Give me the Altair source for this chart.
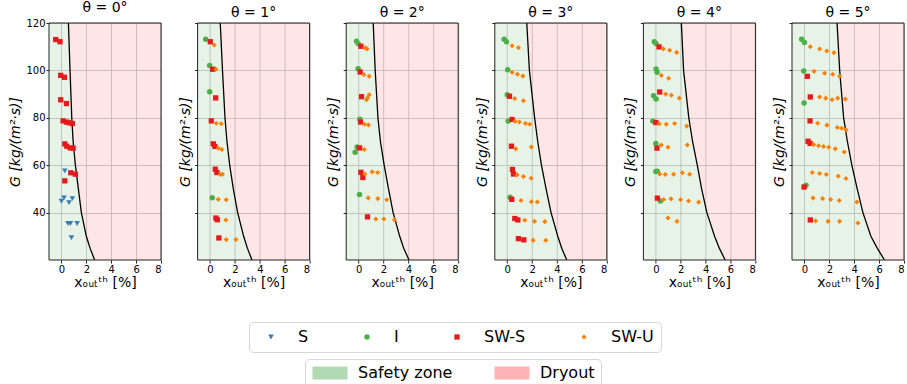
import altair as alt
import pandas as pd

# ---------------- data ----------------
X_MIN, X_MAX = -1, 8
G_MIN, G_MAX = 20, 120
X_TICKS = [0, 2, 4, 6, 8]
G_TICKS = [40, 60, 80, 100, 120]
THETAS = [0, 1, 2, 3, 4, 5]

REGIMES = ["S", "I", "SW-S", "SW-U"]
REGIME_COLORS = ["#377eb8", "#4daf4a", "#e41a1c", "#ff7f00"]
REGIME_SHAPES = ["triangle-down", "circle", "square", "diamond"]
REGIME_SIZES = [32, 26, 26, 46]
ZONES = ["Safety zone", "Dryout"]
ZONE_COLORS = ["#b2dab2", "#ffb3b3"]

# dryout boundary curves
CURVE_G = [20, 25, 30, 40, 50, 60, 70, 80, 100, 120]
CURVE_X0 = [2.67, 2.30, 2.00, 1.60, 1.36, 1.12, 0.94, 0.83, 0.69, 0.56]
CURVE_X1 = [3.37, 3.00, 2.70, 2.22, 1.87, 1.58, 1.36, 1.20, 1.00, 0.82]
CURVE_X2 = [4.05, 3.62, 3.30, 2.77, 2.40, 2.05, 1.75, 1.55, 1.33, 1.17]
CURVE_X3 = [4.78, 4.38, 4.06, 3.52, 3.12, 2.75, 2.45, 2.20, 1.78, 1.57]
CURVE_X4 = [5.57, 5.10, 4.72, 4.10, 3.68, 3.33, 2.95, 2.65, 2.23, 2.05]
CURVE_X5 = [6.43, 5.85, 5.34, 4.70, 4.24, 3.81, 3.45, 3.15, 2.83, 2.62]
CURVES = [CURVE_X0, CURVE_X1, CURVE_X2, CURVE_X3, CURVE_X4, CURVE_X5]

# measured points: regime -> (x_out [%], G)
P0 = {
    "S": ([0.27, 0.00, 0.21, 0.61, 0.88, 0.53, 0.72, 1.26, 0.80],
          [57.6, 44.8, 46.2, 44.2, 45.9, 35.4, 35.4, 35.4, 29.4]),
    "SW-S": ([-0.46, -0.11, -0.06, 0.24, -0.06, 0.40, 0.13, 0.40, 0.61, 0.88,
              0.27, 0.43, 0.70, 0.94, 0.75, 1.12, 0.27],
             [113.0, 112.1, 97.9, 97.1, 87.6, 86.0, 78.7, 78.2, 77.9, 77.6,
              69.0, 68.0, 67.3, 67.2, 56.8, 56.2, 53.4]),
}
P1 = {
    "I": ([-0.35, -0.03, -0.03, 0.18], [113.1, 102.1, 91.0, 46.3]),
    "SW-S": ([0.02, 0.21, 0.45, 0.10, 0.26, 0.39, 0.42, 0.55, 0.47, 0.58, 0.71],
             [112.1, 100.5, 88.4, 78.7, 69.0, 67.9, 58.3, 56.9, 37.7, 37.0, 29.3]),
    "SW-U": ([0.34, 0.47, 0.50, 0.90, 0.66, 0.95, 0.82, 1.00, 0.66, 1.30, 1.27, 1.30, 2.08],
             [110.7, 100.5, 77.7, 77.5, 67.2, 66.6, 56.1, 56.2, 45.6, 45.4, 36.9, 28.6, 28.6]),
}
P2 = {
    "I": ([-0.17, -0.04, -0.04, 0.10, -0.12, -0.28, 0.07],
          [112.3, 111.3, 100.7, 79.4, 67.7, 65.5, 47.6]),
    "SW-S": ([0.18, 0.12, 0.23, 0.15, 0.07, 0.18, 0.34, 0.71],
             [110.2, 99.3, 88.9, 78.2, 67.3, 57.0, 54.8, 38.2]),
    "SW-U": ([0.52, 0.68, 0.42, 0.85, 0.71, 0.85, 0.63, 0.47, 0.79, 0.45, 0.50, 1.09,
              1.52, 0.77, 1.54, 2.26, 1.38, 2.02, 2.88],
             [109.5, 109.1, 98.2, 97.5, 88.4, 89.7, 87.6, 77.3, 77.0, 66.6, 56.3, 57.2,
              56.9, 46.2, 45.9, 45.4, 37.3, 37.3, 37.0]),
}
P3 = {
    "I": ([-0.25, -0.06, 0.04, 0.00, 0.07, 0.23],
          [113.1, 112.1, 100.3, 89.7, 78.6, 46.5]),
    "SW-S": ([0.18, 0.39, 0.34, 0.42, 0.50, 0.36, 0.61, 0.85, 0.90, 1.33],
             [89.1, 79.3, 68.0, 58.2, 56.3, 45.6, 37.5, 36.9, 29.0, 28.5]),
    "SW-U": ([0.39, 0.90, 0.39, 0.82, 1.25, 0.60, 1.30, 0.63, 0.98, 1.46, 1.81, 0.69,
              1.94, 0.79, 1.30, 1.92, 1.11, 1.94, 2.42, 1.41, 2.19, 3.02, 2.08, 3.10],
             [110.4, 109.6, 99.2, 98.4, 97.6, 88.1, 87.2, 78.5, 78.2, 77.6, 77.3, 66.9,
              67.7, 55.9, 55.2, 54.5, 45.1, 44.6, 44.5, 36.8, 36.3, 36.2, 28.3, 28.3]),
}
P4 = {
    "I": ([-0.12, 0.02, 0.02, 0.10, -0.18, 0.02, -0.25, 0.00, 0.00, 0.12, 0.36],
          [112.1, 111.3, 100.6, 99.2, 89.3, 87.9, 78.6, 69.2, 57.3, 57.5, 44.9]),
    "SW-S": ([0.26, 0.31, 0.00, 0.09, 0.12], [109.9, 90.9, 78.0, 67.2, 46.1]),
    "SW-U": ([0.60, 1.11, 1.67, 0.44, 1.03, 0.79, 1.25, 1.89, 0.28, 0.84, 1.51, 2.48,
              0.44, 0.98, 2.53, 0.31, 0.76, 1.43, 2.13, 2.72, 0.63, 1.22, 1.99, 2.63,
              3.44, 0.98, 1.70],
             [109.1, 108.5, 107.6, 97.9, 96.7, 90.0, 89.5, 88.3, 77.5, 77.3, 77.6, 76.5,
              68.5, 67.6, 68.5, 56.3, 56.1, 56.2, 56.8, 56.2, 45.5, 45.8, 45.4, 44.9,
              44.4, 37.7, 36.3]),
}
P5 = {
    "I": ([-0.22, 0.00, -0.06, -0.03, 0.13], [113.1, 111.8, 99.7, 86.2, 51.5]),
    "SW-S": ([0.23, 0.47, 0.45, 0.29, 0.45, -0.03, 0.47],
             [97.5, 88.8, 78.7, 70.1, 69.2, 50.8, 36.9]),
    "SW-U": ([0.47, 1.22, 1.79, 2.37, 0.77, 1.62, 2.27, 2.83, 1.22, 1.71, 2.22, 2.67,
              3.29, 1.06, 1.81, 2.64, 2.99, 3.34, 0.74, 1.14, 1.54, 1.95, 2.48, 3.20,
              0.63, 1.22, 1.76, 2.72, 3.34, 0.69, 1.46, 2.10, 2.80, 4.22, 0.90, 1.89,
              2.83, 4.30],
             [110.0, 109.0, 108.2, 107.5, 99.6, 98.8, 98.4, 97.5, 88.8, 88.3, 87.6, 88.3,
              87.9, 77.7, 76.9, 75.9, 75.6, 74.9, 68.7, 68.2, 67.9, 67.6, 66.9, 65.6,
              56.9, 56.5, 56.1, 55.4, 54.4, 46.2, 45.9, 45.5, 45.1, 44.5, 36.5, 36.3,
              36.3, 35.6]),
}
POINTS = [P0, P1, P2, P3, P4, P5]

TITLE_FMT = "θ = {}°"
X_TITLE = "xₒᵤₜᵗʰ [%]"
Y_TITLE = "G [kg/(m²·s)]"

# ---------------- chart ----------------
FONT = "DejaVu Sans"
PANEL_W, PANEL_H = 112, 237

x_scale = alt.Scale(domain=[X_MIN, X_MAX], nice=False, zero=False)
y_scale = alt.Scale(domain=[G_MIN, G_MAX], nice=False, zero=False)

regime_legend = alt.Legend(
    title=None, orient="none", legendX=200, legendY=299, direction="horizontal",
    columns=4, symbolSize=18, symbolStrokeWidth=0, symbolOffset=7,
    labelFont=FONT, labelFontSize=16, labelColor="black", labelOffset=19,
    columnPadding=43, padding=7, strokeColor="#d6d6d6", cornerRadius=4,
    fillColor="white",
)
zone_legend = alt.Legend(
    title=None, orient="none", legendX=256, legendY=336, direction="horizontal",
    columns=2, symbolType="M-2.7,-1H2.7V1H-2.7Z", symbolSize=169,
    symbolStrokeWidth=0, symbolOpacity=1, symbolOffset=11,
    labelFont=FONT, labelFontSize=16, labelColor="black", labelOffset=20,
    columnPadding=40, padding=6, strokeColor="#d6d6d6", cornerRadius=4,
    fillColor="white",
)


def panel(k):
    cx = CURVES[k]
    n = len(CURVE_G)
    zone_df = pd.concat([
        pd.DataFrame({"G": CURVE_G, "x1": [X_MIN] * n, "x2": cx, "zone": ZONES[0]}),
        pd.DataFrame({"G": CURVE_G, "x1": cx, "x2": [X_MAX] * n, "zone": ZONES[1]}),
    ], ignore_index=True)
    curve_df = pd.DataFrame({"G": CURVE_G, "xc": cx})
    rows = []
    for reg, (xs, gs) in POINTS[k].items():
        for xv, gv in zip(xs, gs):
            rows.append({"x": xv, "G": gv, "regime": reg})
    pts_df = pd.DataFrame(rows)
    frame_df = pd.DataFrame({"f": [0]})

    x_axis = alt.Axis(values=X_TICKS, title=X_TITLE, grid=True, labelPadding=1,
                      titlePadding=1, labelOverlap=False)
    y_axis = alt.Axis(values=G_TICKS, title=Y_TITLE, grid=True, labels=(k == 0),
                      labelPadding=1, titlePadding=(3 if k == 0 else 2),
                      titleFontStyle="italic", labelOverlap=False)

    zones = alt.Chart(zone_df).mark_area(orient="horizontal", opacity=0.33).encode(
        y=alt.Y("G:Q", scale=y_scale, axis=y_axis),
        x=alt.X("x1:Q", scale=x_scale, axis=x_axis),
        x2="x2:Q",
        fill=alt.Fill("zone:N", scale=alt.Scale(domain=ZONES, range=ZONE_COLORS),
                      legend=zone_legend),
    )
    curve = alt.Chart(curve_df).mark_line(color="black", strokeWidth=1.3, clip=True).encode(
        x=alt.X("xc:Q", scale=x_scale, axis=x_axis),
        y=alt.Y("G:Q", scale=y_scale, axis=y_axis),
        order="G:Q",
    )
    pts = alt.Chart(pts_df).mark_point(filled=True, opacity=1).encode(
        x=alt.X("x:Q", scale=x_scale, axis=x_axis),
        y=alt.Y("G:Q", scale=y_scale, axis=y_axis),
        color=alt.Color("regime:N", scale=alt.Scale(domain=REGIMES, range=REGIME_COLORS),
                        legend=regime_legend),
        shape=alt.Shape("regime:N", scale=alt.Scale(domain=REGIMES, range=REGIME_SHAPES),
                        legend=regime_legend),
        size=alt.Size("regime:N", scale=alt.Scale(domain=REGIMES, range=REGIME_SIZES),
                      legend=None),
    )
    frame = alt.Chart(frame_df).mark_rect(filled=False, stroke="#222222", strokeWidth=1).encode(
        x=alt.datum(X_MIN, axis=x_axis), x2=alt.datum(X_MAX),
        y=alt.datum(G_MIN, axis=y_axis), y2=alt.datum(G_MAX),
    )
    return alt.layer(zones, curve, pts, frame).properties(
        width=PANEL_W, height=PANEL_H, title=TITLE_FMT.format(THETAS[k])
    )


chart = alt.hconcat(*[panel(k) for k in range(6)], spacing=36.6, bounds="flush").properties(
    padding={"left": 8, "top": 0, "right": 0, "bottom": 0},
).configure_view(
    stroke="transparent"
).configure_axis(
    labelFont=FONT, labelFontSize=10, labelColor="black",
    titleFont=FONT, titleFontSize=14, titleFontWeight="normal", titleColor="black",
    tickColor="#222222", tickSize=3, domain=False, labelOverlap=False,
    gridColor="#b0b0b0", gridWidth=0.8, zindex=1,
).configure_title(
    font=FONT, fontSize=14, fontWeight="normal", color="black", offset=3, anchor="middle"
)

chart.save("out.html", embed_options={"renderer": "svg", "actions": False})
